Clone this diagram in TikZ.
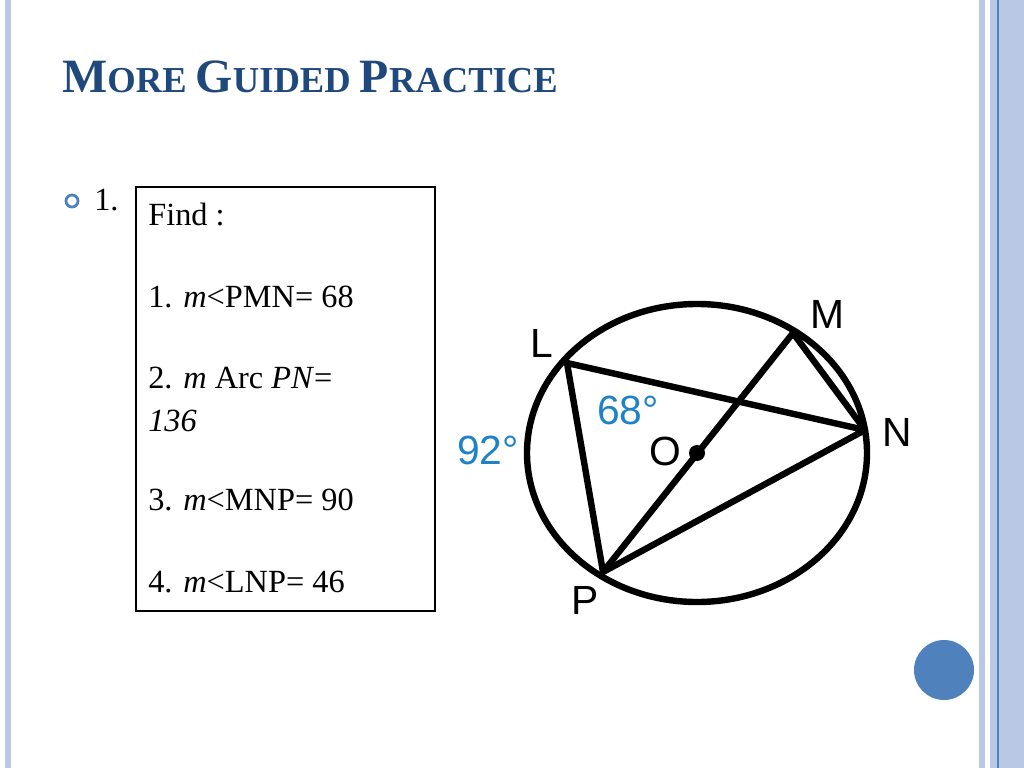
\documentclass[tikz,border=0pt]{standalone}
\usepackage{fontspec}
\setmainfont{Liberation Serif}
\newfontfamily\labelfont{Liberation Sans}
\definecolor{titleblue}{RGB}{31,73,125}
\definecolor{anglblue}{RGB}{30,130,200}
\definecolor{stripe}{RGB}{185,200,228}
\definecolor{dotblue}{RGB}{79,129,189}
\newcommand{\capword}[2]{{\fontsize{34}{36}\selectfont #1}{\fontsize{26}{28}\selectfont #2}}
\begin{document}
\begin{tikzpicture}[x=0.025cm, y=-0.025cm]
	\tikzstyle{pt} = [font=\labelfont\fontsize{29}{32}\selectfont, inner sep=0pt]
	\tikzstyle{ang} = [pt, text=anglblue]
	\tikzstyle{seg} = [line width=1.6mm]
	\tikzstyle{item} = [anchor=base west, font=\fontsize{23}{26}\selectfont, inner sep=0pt]
	\useasboundingbox (0,0) rectangle (1024,768);
	% frame
	\fill[stripe] (5,0) rectangle (11,768);
	\fill[stripe] (979,0) rectangle (985,768);
	\fill[stripe] (990,0) rectangle (1024,768);
	\draw[dotblue, line width=0.4mm] (998,0) -- (998,768);
	\fill[dotblue] (944,670) circle (30);
	% title and bullet
	\node[anchor=base west, text=titleblue, font=\bfseries\fontsize{26}{28}\selectfont, inner sep=0pt] (title) at (62,93) {\capword{M}{ORE} \capword{G}{UIDED} \capword{P}{RACTICE}};
	\draw[dotblue, line width=0.7mm] (72,201) circle (6);
	\node[item] (num) at (94,210) {1.};
	% question box
	\draw[line width=0.6mm] (136,187) rectangle (435,611);
	\node[item] (i0) at (148,225) {Find :};
	\node[item] (i1) at (148,307) {1. \textit{m}<PMN= 68};
	\node[item] (i2) at (148,388) {2. \textit{m} Arc \textit{PN}=};
	\node[item] (i2b) at (148,431) {\textit{136}};
	\node[item] (i3) at (148,510) {3. \textit{m}<MNP= 90};
	\node[item] (i4) at (148,592) {4. \textit{m}<LNP= 46};
	% circle
	\coordinate (O) at (697,453);
	\coordinate (L) at (567,363);
	\coordinate (M) at (793,333);
	\coordinate (N) at (865,430);
	\coordinate (P) at (603,572);
	\draw[seg] (O) ellipse (170 and 149);
	\draw[seg, line join=round] (L) -- (N) -- (P) -- cycle;
	\draw[seg] (M) -- (N);
	\draw[seg] (M) -- (P);
	\fill (O) circle (8);
	\node[pt] (lL) at (542,343) {L};
	\node[pt] (lM) at (827,314) {M};
	\node[pt] (lN) at (897,432) {N};
	\node[pt] (lP) at (585,600) {P};
	\node[pt] (lO) at (665,451) {O};
	\node[ang] (a68) at (628,410) {68°};
	\node[ang] (a92) at (488,450) {92°};
\end{tikzpicture}
\end{document}
